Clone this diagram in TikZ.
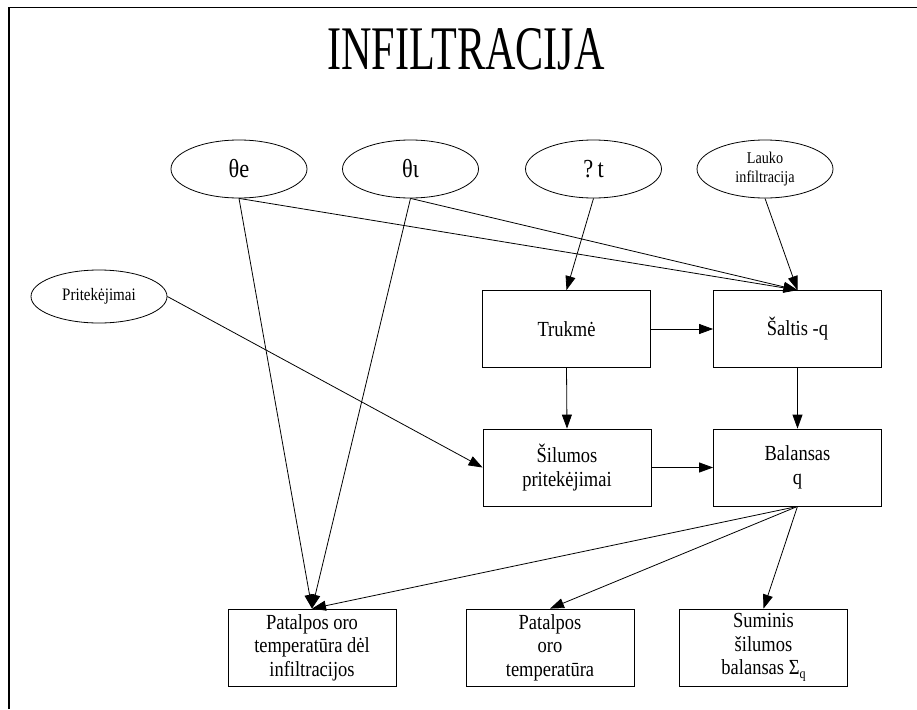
\documentclass[tikz,border=0pt]{standalone}
\usepackage{fontspec}
\setmainfont{Liberation Serif}[FakeStretch=0.86]
\newfontfamily\titlefont{Liberation Serif}[FakeStretch=0.68]
\usetikzlibrary{shapes.geometric,arrows.meta}
\tikzset{
  boxnode/.style={draw, line width=0.8pt, minimum width=168pt, minimum height=77pt, inner sep=0pt, align=center, font=\fontsize{21.5}{23.5}\selectfont},
  ellnode/.style={draw, ellipse, line width=0.8pt, minimum width=136pt, minimum height=58pt, inner sep=0pt, align=center, font=\fontsize{26}{26}\selectfont},
  smallell/.style={ellnode, font=\fontsize{16.5}{18.5}\selectfont},
  conn/.style={line width=0.8pt, -{Triangle[length=14pt,width=10pt]}},
}
\begin{document}
\begin{tikzpicture}[x=1pt,y=-1pt]
\useasboundingbox (0,0) rectangle (917,709);
\draw[line width=1.3pt] (9,709) -- (9,7.5) -- (917,7.5);
\node[font=\titlefont\fontsize{62}{62}\selectfont] (title) at (466,49) {INFILTRACIJA};
% ellipses
\node[ellnode] (te) at (239,169) {θe};
\node[ellnode] (ti) at (410.5,169) {θι};
\node[ellnode] (dt) at (593.5,169) {?\,t};
\node[smallell] (lauko) at (765,169) {Lauko\\infiltracija};
\node[smallell, minimum height=53pt, font=\fontsize{17.5}{19}\selectfont] (prit) at (99,296.5) {Pritekėjimai};
% boxes
\node[boxnode] (truk) at (566.5,329) {Trukmė};
\node[boxnode] (salt) at (797.5,329) {Šaltis -q};
\node[boxnode] (silu) at (567,467.5) {Šilumos\\pritekėjimai};
\node[boxnode] (bal) at (797.5,467.5) {Balansas\\q};
\node[boxnode] (pdel) at (312,647.5) {Patalpos oro\\temperatūra dėl\\infiltracijos};
\node[boxnode] (pat) at (550,647.5) {Patalpos\\oro\\temperatūra};
\node[boxnode] (sum) at (763.5,647.5) {Suminis\\šilumos\\balansas Σ\raisebox{-0.4ex}{\fontsize{14}{14}\selectfont q}};
% connectors
\draw[conn] (te.south) -- (salt.north);
\draw[conn] (ti.south) -- (salt.north);
\draw[conn] (lauko.south) -- (salt.north);
\draw[conn] (dt.south) -- (truk.north);
\draw[conn] (te.south) -- (pdel.north);
\draw[conn] (ti.south) -- (pdel.north);
\draw[conn] (prit.east) -- (silu.west);
\draw[conn] (truk.east) -- (salt.west);
\draw[conn] (truk.south) -- (silu.north);
\draw[conn] (salt.south) -- (bal.north);
\draw[conn] (silu.east) -- (bal.west);
\draw[conn] (bal.south) -- (pdel.north);
\draw[conn] (bal.south) -- (pat.north);
\draw[conn] (bal.south) -- (sum.north);
\end{tikzpicture}
\end{document}
